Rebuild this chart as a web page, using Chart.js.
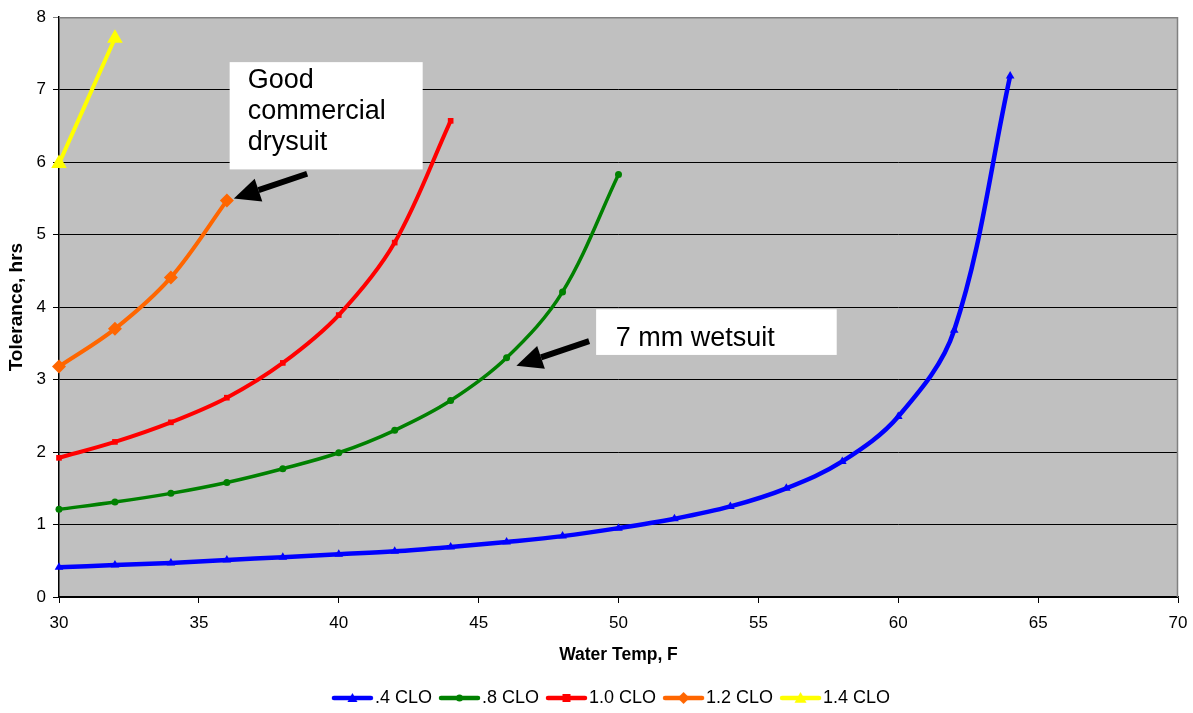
<!DOCTYPE html>
<html>
<head>
<meta charset="utf-8">
<script src="https://cdn.jsdelivr.net/npm/chart.js@4.4.1/dist/chart.umd.min.js"></script>
<style>
  html, body { margin: 0; padding: 0; background: #fff; }
  #wrap { width: 1193px; height: 713px; }
</style>
</head>
<body>
<div id="wrap"><canvas id="clo"></canvas></div>
<script>
// water temp (F) and tolerance (hrs) for each clothing insulation level
const temps04 = [30, 32, 34, 36, 38, 40, 42, 44, 46, 48, 50, 52, 54, 56, 58, 60, 62, 64];
const hrs04 = [0.41, 0.44, 0.47, 0.51, 0.55, 0.59, 0.63, 0.69, 0.76, 0.84, 0.95, 1.08, 1.25, 1.50, 1.87, 2.49, 3.68, 7.19];

const temps08 = [30, 32, 34, 36, 38, 40, 42, 44, 46, 48, 50];
const hrs08 = [1.21, 1.31, 1.43, 1.58, 1.77, 1.99, 2.30, 2.71, 3.30, 4.21, 5.83];

const temps10 = [30, 32, 34, 36, 38, 40, 42, 44];
const hrs10 = [1.92, 2.14, 2.41, 2.75, 3.23, 3.89, 4.89, 6.57];

const temps12 = [30, 32, 34, 36];
const hrs12 = [3.18, 3.70, 4.41, 5.47];

const temps14 = [30, 32];
const hrs14 = [5.98, 7.71];

const xTicks = [30, 35, 40, 45, 50, 55, 60, 65, 70];
const yTicks = [0, 1, 2, 3, 4, 5, 6, 7, 8];

const FONT = 'Arial, "Liberation Sans", Helvetica, sans-serif';

function toPoints(xs, ys) {
  return xs.map((x, i) => ({ x: x, y: ys[i] }));
}

// little marker drawer, used for the legend icons
function drawMarker(ctx, style, cx, cy, r, color) {
  ctx.fillStyle = color;
  ctx.beginPath();
  if (style === 'triangle') {
    ctx.moveTo(cx, cy - r);
    ctx.lineTo(cx + r, cy + r * 0.8);
    ctx.lineTo(cx - r, cy + r * 0.8);
  } else if (style === 'circle') {
    ctx.arc(cx, cy, r, 0, Math.PI * 2);
  } else if (style === 'rectRot') {
    ctx.moveTo(cx, cy - r);
    ctx.lineTo(cx + r, cy);
    ctx.lineTo(cx, cy + r);
    ctx.lineTo(cx - r, cy);
  } else {
    ctx.rect(cx - r, cy - r, r * 2, r * 2);
  }
  ctx.closePath();
  ctx.fill();
}

// icon canvas is wider than the line so the line sits left of the text
function legendIcon(color, style, r) {
  const c = document.createElement('canvas');
  c.width = 90;
  c.height = 18;
  const ctx = c.getContext('2d');
  ctx.strokeStyle = color;
  ctx.lineWidth = 4.5;
  ctx.lineCap = 'round';
  ctx.beginPath();
  ctx.moveTo(30, 9);
  ctx.lineTo(67, 9);
  ctx.stroke();
  drawMarker(ctx, style, 48.5, 9, r, color);
  return c;
}

const series = [
  { label: '.4 CLO', xs: temps04, ys: hrs04, color: '#0000FF', style: 'triangle', radius: 5, width: 4.5 },
  { label: '.8 CLO', xs: temps08, ys: hrs08, color: '#008000', style: 'circle', radius: 3.5, width: 3.5 },
  { label: '1.0 CLO', xs: temps10, ys: hrs10, color: '#FF0000', style: 'rect', radius: 4, width: 4 },
  { label: '1.2 CLO', xs: temps12, ys: hrs12, color: '#FF6600', style: 'rectRot', radius: 7, width: 4 },
  { label: '1.4 CLO', xs: temps14, ys: hrs14, color: '#FFFF00', style: 'triangle', radius: 9, width: 4 },
];

const legendIcons = series.map((s) => legendIcon(s.color, s.style, Math.min(s.radius, 6)));

// grey plot background + frame
const plotBackground = {
  id: 'plotBackground',
  afterLayout(chart) {
    // legend in the original sits a bit right of centre
    chart.legend.left += 22;
    chart.legend.right += 22;
  },
  beforeDraw(chart) {
    const { ctx, chartArea: a } = chart;
    ctx.save();
    ctx.fillStyle = '#C0C0C0';
    ctx.fillRect(a.left, a.top, a.right - a.left, a.bottom - a.top);
    ctx.restore();
  },
  beforeDatasetsDraw(chart) {
    const { ctx, chartArea: a } = chart;
    ctx.save();
    ctx.strokeStyle = '#808080';
    ctx.lineWidth = 1.5;
    ctx.beginPath();
    ctx.moveTo(a.left, a.top + 0.5);
    ctx.lineTo(a.right - 0.5, a.top + 0.5);
    ctx.lineTo(a.right - 0.5, a.bottom);
    ctx.stroke();
    ctx.restore();
  },
};

// callout boxes with arrows, placed in data units
const notes = [
  {
    box: [36.1, 7.38, 43.0, 5.90],
    lines: ['Good', 'commercial', 'drysuit'],
    textAt: [36.75, 7.02],
    arrow: [38.87, 5.84, 36.25, 5.50],
  },
  {
    box: [49.2, 3.97, 57.8, 3.34],
    lines: ['7 mm wetsuit'],
    textAt: [49.9, 3.46],
    arrow: [48.95, 3.53, 46.35, 3.19],
  },
];

function drawArrow(ctx, x1, y1, x2, y2) {
  const ang = Math.atan2(y2 - y1, x2 - x1);
  const headLen = 26;
  const headW = 12;
  const bx = x2 - headLen * Math.cos(ang);
  const by = y2 - headLen * Math.sin(ang);
  ctx.strokeStyle = '#000';
  ctx.lineWidth = 6;
  ctx.beginPath();
  ctx.moveTo(x1, y1);
  ctx.lineTo(bx, by);
  ctx.stroke();
  ctx.fillStyle = '#000';
  ctx.beginPath();
  ctx.moveTo(x2, y2);
  ctx.lineTo(bx + headW * Math.sin(ang), by - headW * Math.cos(ang));
  ctx.lineTo(bx - headW * Math.sin(ang), by + headW * Math.cos(ang));
  ctx.closePath();
  ctx.fill();
}

const callouts = {
  id: 'callouts',
  afterDatasetsDraw(chart) {
    const { ctx } = chart;
    const xs = chart.scales.x;
    const ys = chart.scales.y;
    ctx.save();
    notes.forEach((n) => {
      const l = xs.getPixelForValue(n.box[0]);
      const t = ys.getPixelForValue(n.box[1]);
      const r = xs.getPixelForValue(n.box[2]);
      const b = ys.getPixelForValue(n.box[3]);
      ctx.fillStyle = '#fff';
      ctx.fillRect(l, t, r - l, b - t);
      ctx.save();
      ctx.beginPath();
      ctx.rect(l, t, r - l, b - t);
      ctx.clip();
      ctx.fillStyle = '#000';
      ctx.font = '27px ' + FONT;
      ctx.textBaseline = 'alphabetic';
      const tx = xs.getPixelForValue(n.textAt[0]);
      const ty = ys.getPixelForValue(n.textAt[1]);
      n.lines.forEach((line, i) => ctx.fillText(line, tx, ty + i * 31));
      ctx.restore();
      drawArrow(
        ctx,
        xs.getPixelForValue(n.arrow[0]), ys.getPixelForValue(n.arrow[1]),
        xs.getPixelForValue(n.arrow[2]), ys.getPixelForValue(n.arrow[3])
      );
    });
    ctx.restore();
  },
};

const chart = new Chart('clo', {
  type: 'line',
  data: {
    datasets: series.map((s) => ({
      label: s.label,
      data: toPoints(s.xs, s.ys),
      borderColor: s.color,
      backgroundColor: s.color,
      borderWidth: s.width,
      pointStyle: s.style,
      pointRadius: s.radius,
      pointBorderWidth: 0,
      pointBackgroundColor: s.color,
      tension: 0.35,
      clip: false,
    })),
  },
  options: {
    responsive: true,
    maintainAspectRatio: false,
    animation: false,
    layout: { padding: { top: 14, right: 15, left: 0, bottom: -4 } },
    plugins: {
      tooltip: { enabled: false },
      legend: {
        position: 'bottom',
        labels: {
          usePointStyle: true,
          pointStyleWidth: 34,
          padding: 7,
          color: '#000',
          font: { family: FONT, size: 18 },
          generateLabels: (c) => c.data.datasets.map((ds, i) => ({
            text: ds.label,
            pointStyle: legendIcons[i],
            fillStyle: 'transparent',
            strokeStyle: 'transparent',
            lineWidth: 0,
            fontColor: '#000',
            hidden: false,
            datasetIndex: i,
          })),
        },
      },
    },
    scales: {
      x: {
        type: 'linear',
        min: 30,
        max: 70,
        afterBuildTicks: (scale) => { scale.ticks = xTicks.map((v) => ({ value: v })); },
        afterFit: (scale) => {
          scale.height = 85;
          scale.paddingRight = 0;
          scale.paddingLeft = 0;
        },
        ticks: { color: '#000', font: { family: FONT, size: 17 }, padding: 10 },
        grid: { drawOnChartArea: false, color: '#000', tickLength: 6 },
        border: { color: '#000', width: 1.5 },
        title: {
          display: true,
          text: 'Water Temp, F',
          color: '#000',
          font: { family: FONT, size: 17.5, weight: 'bold' },
          padding: { top: 4, bottom: 16 },
        },
      },
      y: {
        min: 0,
        max: 8,
        afterBuildTicks: (scale) => { scale.ticks = yTicks.map((v) => ({ value: v })); },
        afterFit: (scale) => { scale.width = 59; },
        ticks: { color: '#000', font: { family: FONT, size: 17 }, padding: 7 },
        grid: {
          color: (c) => (c.tick && c.tick.value === 8 ? '#808080' : '#000'),
          lineWidth: 1,
          tickLength: 6,
        },
        border: { color: '#000', width: 1.5 },
        title: {
          display: true,
          text: 'Tolerance, hrs',
          color: '#000',
          font: { family: FONT, size: 19, weight: 'bold' },
          padding: { top: 5, bottom: 4 },
        },
      },
    },
  },
  plugins: [plotBackground, callouts],
});
</script>
</body>
</html>
